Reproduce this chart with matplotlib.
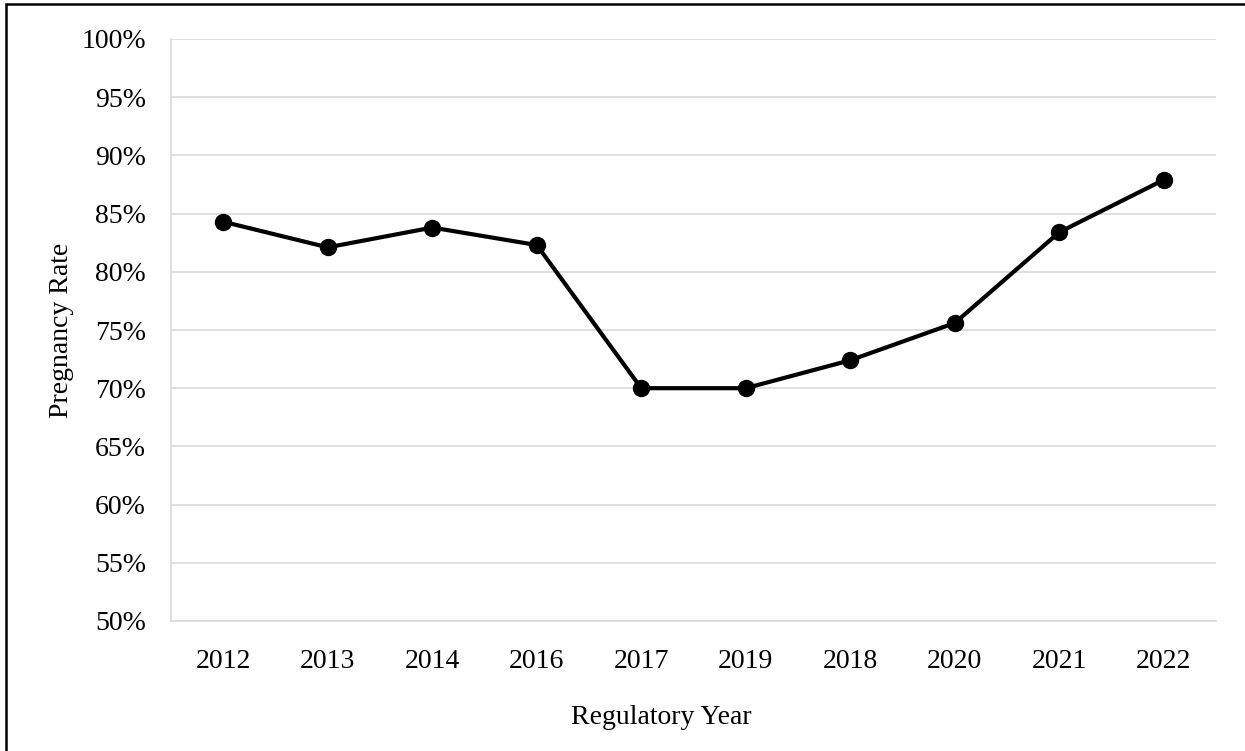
import matplotlib

matplotlib.use("Agg")
import matplotlib.pyplot as plt  # noqa: E402
from matplotlib.patches import Rectangle  # noqa: E402
from matplotlib.ticker import FuncFormatter  # noqa: E402

years = ["2012", "2013", "2014", "2016", "2017", "2019", "2018", "2020", "2021", "2022"]
rates = [84.3, 82.1, 83.8, 82.3, 70.0, 70.0, 72.4, 75.6, 83.4, 87.9]
y_ticks = [50, 55, 60, 65, 70, 75, 80, 85, 90, 95, 100]

plt.rcParams["font.family"] = ["Liberation Serif", "DejaVu Serif"]

W, H = 1245, 751
fig = plt.figure(figsize=(W / 100, H / 100), dpi=100)
# axes box in pixels: left 171, right 1216, top 39, bottom 621
ax = fig.add_axes([171 / W, 1 - 621 / H, 1045 / W, 582 / H])

x = range(len(years))
ax.plot(x, rates, color="black", lw=3, marker="o", ms=11.5, zorder=3)

ax.set_xlim(-0.5, len(years) - 0.5)
ax.set_ylim(50, 100)
ax.set_xticks(list(x))
ax.set_xticklabels(years)
ax.set_yticks(y_ticks)
ax.yaxis.set_major_formatter(FuncFormatter(lambda v, _: f"{v:.0f}%"))
ax.tick_params(length=0, labelsize=20, colors="black")
ax.tick_params(axis="y", pad=18)
ax.tick_params(axis="x", pad=20)
ax.grid(axis="y", color="#d9d9d9", lw=1.2)
ax.set_axisbelow(True)
for side in ["top", "right"]:
    ax.spines[side].set_visible(False)
for side in ["left", "bottom"]:
    ax.spines[side].set_color("#d9d9d9")
    ax.spines[side].set_linewidth(1.2)

ax.set_ylabel("Pregnancy Rate", fontsize=20)
ax.set_xlabel("Regulatory Year", fontsize=20)
ax.yaxis.set_label_coords((62 - 171) / 1045, 0.5)
ax.xaxis.set_label_coords((661 - 171) / 1045, (621 - 718) / 582)
ax.yaxis.label.set_va("center")
ax.xaxis.label.set_va("center")

# outer border (cropped at right and bottom in the original)
fig.patches.append(
    Rectangle((6 / W, -0.05), 1.2, 1.05 - 4.5 / H,
              transform=fig.transFigure, fill=False, ec="black", lw=1.8,
              clip_on=False)
)

fig.savefig("out.png", dpi=100)
